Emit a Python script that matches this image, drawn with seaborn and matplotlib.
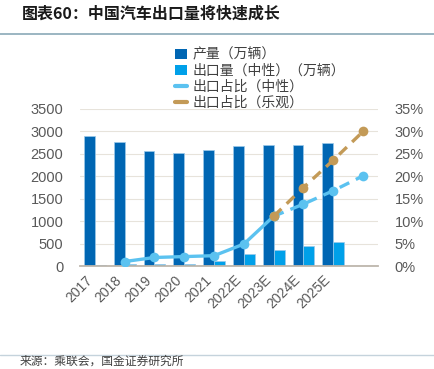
import pandas as pd
import numpy as np
import matplotlib.pyplot as plt
import seaborn as sns
from matplotlib.patches import Patch
from matplotlib.lines import Line2D
from matplotlib.ticker import FuncFormatter

# 数据
years = ['2017', '2018', '2019', '2020', '2021', '2022E', '2023E', '2024E', '2025E']
slots = years + ['']  # 原图横轴多一个空的类别位置
production = [2898, 2771, 2557, 2512, 2593, 2668, 2690, 2705, 2742]   # 产量（万辆）
exports = [18, 35, 35, 35, 115, 275, 364, 446, 528]                   # 出口量（中性）（万辆）

# 出口占比：原图的折线相对柱子错开一格
neutral_x = ['2018', '2019', '2020', '2021', '2022E', '2023E', '2024E', '2025E', '']
neutral_pct = [1.0, 1.9, 2.1, 2.3, 4.9, 11.1, 13.8, 16.8, 20.1]
optimistic_x = ['2023E', '2024E', '2025E', '']
optimistic_pct = [11.1, 17.5, 23.6, 30.0]

series_names = ['产量（万辆）', '出口量（中性）（万辆）', '出口占比（中性）', '出口占比（乐观）']
c_prod, c_exp, c_neu, c_opt = '#0066B3', '#00A0E9', '#5BC2F0', '#C39A57'

df = pd.DataFrame({
    '年份': years * 2,
    '系列': [series_names[0]] * len(years) + [series_names[1]] * len(years),
    '数量': production + exports,
})

sns.set_theme(style='white')
plt.rcParams['font.family'] = ['Liberation Sans', 'Noto Sans CJK SC', 'DejaVu Sans']

fig = plt.figure(figsize=(4.35, 3.69), dpi=100)
ax = fig.add_axes([80 / 435, 1 - 266 / 369, 298 / 435, 157 / 369])

sns.barplot(data=df, x='年份', y='数量', hue='系列', order=years,
            hue_order=series_names[:2], palette=[c_prod, c_exp], saturation=1,
            width=0.73, gap=0, edgecolor='#9CC9EA', linewidth=0.5,
            legend=False, ax=ax)

ax.set_ylim(0, 3500)
ax.set_yticks(np.arange(0, 3501, 500))
ax.set_xlabel('')
ax.set_ylabel('')
ax.grid(axis='y', color='#E7E3DB', linewidth=0.8)
ax.set_axisbelow(True)
for s in ['top', 'right', 'left']:
    ax.spines[s].set_visible(False)
ax.spines['bottom'].set_color('#BDB6AC')
ax.spines['bottom'].set_linewidth(1.3)
ax.tick_params(axis='both', length=0, labelsize=10.5, colors='#595959')
ax.tick_params(axis='y', pad=12)
ax.tick_params(axis='x', labelsize=10, pad=5)
ax.set_xticks(range(len(years)))
ax.set_xticklabels(years, rotation=45, ha='right')

# 折线：次坐标轴
ax2 = ax.twinx()
pos = {c: i for i, c in enumerate(slots)}
n_solid = neutral_x.index('2023E') + 1
nx = [pos[c] for c in neutral_x]
sns.lineplot(x=nx[:n_solid], y=neutral_pct[:n_solid], ax=ax2, color=c_neu,
             linewidth=2.4, marker='o', markersize=7, markeredgewidth=0)
sns.lineplot(x=nx[n_solid - 1:], y=neutral_pct[n_solid - 1:], ax=ax2, color=c_neu,
             linewidth=2.4, marker='o', markersize=7, markeredgewidth=0,
             linestyle=(0, (3.2, 2.2)))
sns.lineplot(x=[pos[c] for c in optimistic_x], y=optimistic_pct, ax=ax2, color=c_opt,
             linewidth=2.4, marker='o', markersize=7, markeredgewidth=0,
             linestyle=(0, (3.2, 2.2)))

ax2.set_ylim(0, 35)
ax2.set_yticks(np.arange(0, 36, 5))
ax2.yaxis.set_major_formatter(FuncFormatter(lambda v, p: f'{v:.0f}%'))
ax2.set_ylabel('')
ax2.grid(False)
for s in ax2.spines.values():
    s.set_visible(False)
ax2.tick_params(axis='y', length=0, labelsize=10.5, colors='#595959', pad=12)
ax.set_xlim(-0.5, len(slots) - 0.5)

# 图例
handles = [
    Patch(facecolor=c_prod, edgecolor='none'),
    Patch(facecolor=c_exp, edgecolor='none'),
    Line2D([], [], color=c_neu, linewidth=3, solid_capstyle='round'),
    Line2D([], [], color=c_opt, linewidth=3, solid_capstyle='round'),
]
fig.legend(handles, series_names, loc='upper left',
           bbox_to_anchor=(165 / 435, 1 - 38 / 369), frameon=False,
           fontsize=10, labelcolor='#404040', handlelength=0.9, handleheight=0.8,
           handletextpad=0.4, labelspacing=0.15, borderpad=0.2)

# 标题与来源
fig.text(22 / 435, 1 - 14 / 369, '图表60：中国汽车出口量将快速成长',
         fontsize=11.5, fontweight='bold', color='#1A1A1A', va='center',
         family=['Noto Sans CJK SC', 'DejaVu Sans'])
fig.add_artist(Line2D([0, 1], [1 - 34 / 369] * 2, color='#8AA9B8', linewidth=1.2))
fig.add_artist(Line2D([0, 1], [1 - 355 / 369] * 2, color='#C5D3DC', linewidth=1.0))
fig.text(20 / 435, 1.5 / 369, '来源：乘联会，国金证券研究所', fontsize=8.5,
         color='#404040', va='bottom', family=['Noto Sans CJK SC', 'DejaVu Sans'])

fig.savefig('out.png', dpi=100)
